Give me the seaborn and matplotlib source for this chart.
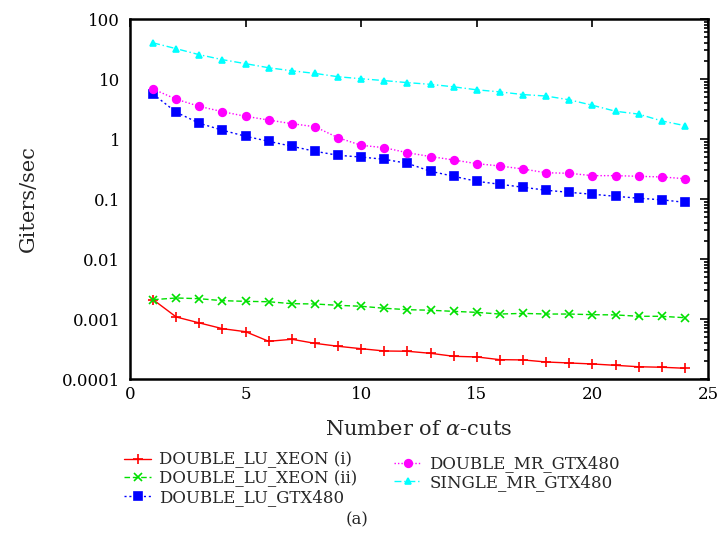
# Throughput (Giters/sec) against number of alpha-cuts, log scale,
# five solver variants, gnuplot-like look.

import matplotlib.pyplot as plt
import pandas as pd
import seaborn as sns
from matplotlib.ticker import FixedLocator, LogLocator, NullFormatter

cuts = list(range(1, 25))

lu_xeon_i = [0.0021, 0.00108, 0.00086, 0.00069, 0.000614, 0.000425, 0.000459,
             0.000393, 0.000351, 0.00032, 0.000293, 0.00029, 0.000268, 0.000239,
             0.000233, 0.00021, 0.000208, 0.000192, 0.000185, 0.000178,
             0.000169, 0.00016, 0.000157, 0.000151]
lu_xeon_ii = [0.0021, 0.00224, 0.00218, 0.00202, 0.00197, 0.00194, 0.0018,
              0.00178, 0.00169, 0.00163, 0.00151, 0.00143, 0.0014, 0.00134,
              0.00129, 0.00121, 0.00124, 0.00121, 0.00121, 0.00118, 0.00117,
              0.00111, 0.00111, 0.00105]
lu_gtx = [5.6, 2.79, 1.83, 1.40, 1.11, 0.915, 0.756, 0.624, 0.535, 0.5, 0.459,
          0.393, 0.29, 0.239, 0.197, 0.176, 0.157, 0.14, 0.129, 0.12, 0.111,
          0.103, 0.097, 0.088]
mr_gtx = [6.8, 4.6, 3.5, 2.85, 2.39, 2.07, 1.8, 1.6, 1.05, 0.785, 0.716, 0.59,
          0.51, 0.447, 0.388, 0.355, 0.316, 0.274, 0.268, 0.245, 0.245, 0.239,
          0.233, 0.218]
single_mr_gtx = [40, 32, 25.4, 21, 18, 15.4, 13.7, 12.4, 10.9, 10.1, 9.4, 8.7,
                 8.15, 7.4, 6.6, 6.1, 5.5, 5.2, 4.5, 3.65, 2.9, 2.6, 2.0, 1.67]

series = {
    "DOUBLE_LU_XEON (i)": lu_xeon_i,
    "DOUBLE_LU_XEON (ii)": lu_xeon_ii,
    "DOUBLE_LU_GTX480": lu_gtx,
    "DOUBLE_MR_GTX480": mr_gtx,
    "SINGLE_MR_GTX480": single_mr_gtx,
}
styles = {
    "DOUBLE_LU_XEON (i)": dict(color="#ff0000", linestyle="-", marker="+", markersize=7),
    "DOUBLE_LU_XEON (ii)": dict(color="#00e000", linestyle=(0, (4, 2)), marker="x", markersize=5.5),
    "DOUBLE_LU_GTX480": dict(color="#0000ff", linestyle=(0, (1.5, 2)), marker="s", markersize=6),
    "DOUBLE_MR_GTX480": dict(color="#ff00ff", linestyle=(0, (1, 1.5)), marker="o", markersize=5.5),
    "SINGLE_MR_GTX480": dict(color="#00ffff", linestyle=(0, (5, 2, 1, 2)), marker="^", markersize=4.5),
}

df = pd.DataFrame(series)
df["cuts"] = cuts

sns.set_style("white")
plt.rcParams["font.family"] = ["DejaVu Serif"]
plt.rcParams["mathtext.fontset"] = "dejavuserif"

fig = plt.figure(figsize=(7.2, 5.42), dpi=100)
ax = fig.add_axes([130 / 720, 1 - 379 / 542, 578 / 720, 360 / 542])

for name in series:
    st = styles[name]
    sns.lineplot(data=df, x="cuts", y=name, ax=ax, label=name, linewidth=1,
                 markeredgewidth=1.2, markeredgecolor=st["color"], **st)

ax.set_yscale("log")
ax.set_xlim(0, 25)
ax.set_ylim(1e-4, 100)
ax.xaxis.set_major_locator(FixedLocator([0, 5, 10, 15, 20, 25]))
yt = [1e-4, 1e-3, 1e-2, 1e-1, 1, 10, 100]
ax.yaxis.set_major_locator(FixedLocator(yt))
ax.set_yticklabels(["0.0001", "0.001", "0.01", "0.1", "1", "10", "100"])
ax.yaxis.set_minor_locator(LogLocator(base=10, subs=range(2, 10)))
ax.yaxis.set_minor_formatter(NullFormatter())
ax.tick_params(which="both", direction="in", top=True, right=True,
               labelsize=12, colors="black", width=1.2)
ax.tick_params(which="major", length=6, pad=7)
ax.tick_params(axis="x", which="major", pad=5)
ax.tick_params(which="minor", length=3)
for s in ax.spines.values():
    s.set_linewidth(1.8)
    s.set_color("black")

ax.set_xlabel(r"Number of $\alpha$-cuts", fontsize=15, labelpad=12)
ax.set_ylabel("Giters/sec", fontsize=15, labelpad=17)

handles, labels = ax.get_legend_handles_labels()
ax.get_legend().remove()
fig.legend(handles[:3], labels[:3], loc="upper left",
           bbox_to_anchor=(116 / 720, 1 - 443 / 542), frameon=False,
           fontsize=12, handlelength=1.6, handletextpad=0.5,
           labelspacing=0.1, borderpad=0)
fig.legend(handles[3:], labels[3:], loc="upper left",
           bbox_to_anchor=(386 / 720, 1 - 447 / 542), frameon=False,
           fontsize=12, handlelength=1.6, handletextpad=0.5,
           labelspacing=0.1, borderpad=0)

fig.text(357 / 720, 1 - 520 / 542, "(a)", ha="center", va="center", fontsize=12)

fig.savefig("out.png", dpi=100)
